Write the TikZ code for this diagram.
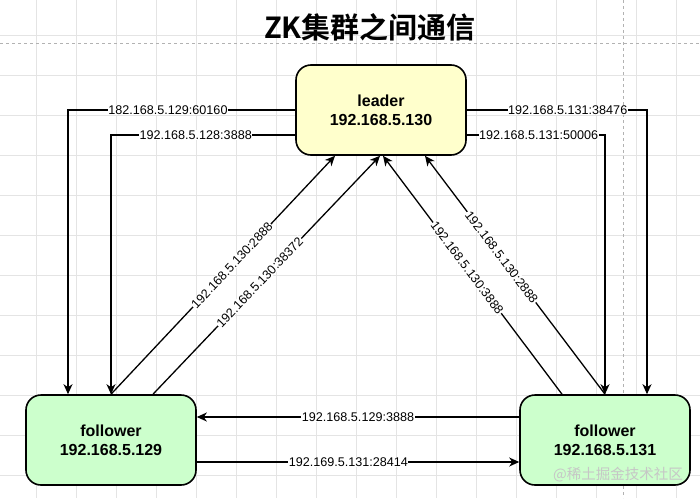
\documentclass[tikz,border=0pt]{standalone}
\usepackage{fontspec}
\setmainfont{Liberation Sans}
\newfontfamily\cjkfont{Noto Sans CJK SC}[BoldFont=Noto Sans CJK SC Bold]
\usetikzlibrary{arrows.meta}
\definecolor{leaderfill}{HTML}{FFFFCC}
\definecolor{followerfill}{HTML}{CCFFCC}
\definecolor{gridgray}{HTML}{E4E4E4}
\begin{document}
\begin{tikzpicture}
  [x=1pt,y=-1pt,
   box/.style={rectangle,rounded corners=15pt,draw=black,line width=1.6pt,
     minimum width=170pt,minimum height=90pt,align=center,
     font=\fontsize{16}{19}\selectfont\bfseries},
   link/.style={line width=1.3pt,-{Stealth[length=10pt,width=9pt,inset=3pt]}},
   addr/.style={fill=white,inner sep=0.6pt,font=\fontsize{12.6}{14}\selectfont}]
  \useasboundingbox (0,0) rectangle (700,498);

  %Fondo: rejilla y lineas de pagina
  \fill[white] (0,0) rectangle (700,498);
  \foreach \gx in {36.7,76.7,...,700}
    \draw[gridgray,line width=0.8pt] (\gx,0) -- (\gx,498);
  \foreach \gy in {35,75,...,498}
    \draw[gridgray,line width=0.8pt] (0,\gy) -- (700,\gy);
  \draw[gray!60,dashed] (0,43.3) -- (700,43.3);
  \draw[gray!60,dashed] (623.3,0) -- (623.3,498);

  \node[font=\cjkfont\fontsize{29}{34}\selectfont\bfseries] (title) at (370,27) {ZK集群之间通信};

  \node[box,fill=leaderfill] (leader) at (381,110) {leader\\192.168.5.130};
  \node[box,fill=followerfill] (f129) at (111,440) {follower\\192.168.5.129};
  \node[box,fill=followerfill] (f131) at (605,440) {follower\\192.168.5.131};

  %Del leader hacia abajo por los lados
  \draw[link] (leader.west) -| node[addr,pos=0.28] {182.168.5.129:60160} ([xshift=-43pt]f129.north);
  \draw[link] ([yshift=-25pt]leader.west) -| node[addr,pos=0.27] {192.168.5.128:3888} (f129.north);
  \draw[link] (leader.east) -| node[addr,pos=0.28] {192.168.5.131:38476} ([xshift=42pt]f131.north);
  \draw[link] ([yshift=-25pt]leader.east) -| node[addr,pos=0.26] {192.168.5.131:50006} (f131.north);

  %Diagonales hacia el leader
  \draw[link] (f129.north) -- node[addr,sloped,pos=0.54] {192.168.5.130:2888} ([xshift=-46pt]leader.south);
  \draw[link] ([xshift=42pt]f129.north) -- node[addr,sloped,pos=0.47] {192.168.5.130:38372} ([xshift=-1pt]leader.south);
  \draw[link] ([xshift=-43pt]f131.north) -- node[addr,sloped,pos=0.53] {192.168.5.130:3888} ([xshift=2pt]leader.south);
  \draw[link] (f131.north) -- node[addr,sloped,pos=0.575] {192.168.5.130:2888} ([xshift=44pt]leader.south);

  %Entre followers
  \draw[link] ([yshift=23pt]f131.west) -- node[addr] {192.168.5.129:3888} ([yshift=23pt]f129.east);
  \draw[link] ([yshift=-22pt]f129.east) -- node[addr,pos=0.47] {192.169.5.131:28414} ([yshift=-22pt]f131.west);

  \node[text=gray!45,font=\cjkfont\fontsize{14.5}{16}\selectfont] (mark) at (618,475) {@稀土掘金技术社区};
\end{tikzpicture}
\end{document}
